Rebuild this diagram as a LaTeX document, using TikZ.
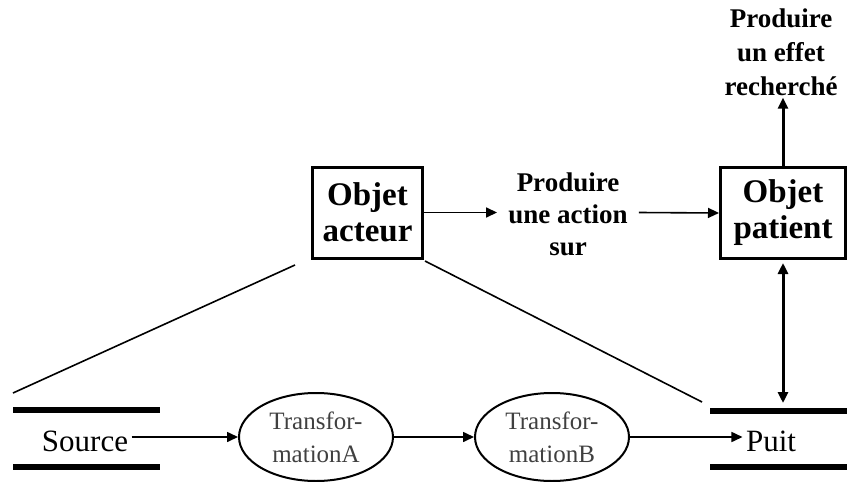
\documentclass[tikz,border=0pt]{standalone}
\usepackage{fontspec}
\setmainfont{Liberation Serif}
\usetikzlibrary{shapes.geometric,arrows.meta}

\begin{document}
\begin{tikzpicture}[x=1pt,y=-1pt,
    objbox/.style={draw, line width=3pt, minimum width=110pt, minimum height=91pt,
      align=center, font=\bfseries\fontsize{33}{36}\selectfont},
    transf/.style={draw, ellipse, line width=2pt, minimum width=154pt, minimum height=88pt,
      inner sep=0pt, align=center, font=\fontsize{25}{33}\selectfont, text=black!75},
    flow/.style={-{Triangle[length=11pt,width=10pt]}, line width=1.6pt},
    vflow/.style={-{Triangle[length=11pt,width=10pt]}, line width=3pt},
    bar/.style={line width=6pt}]
        \useasboundingbox (0,0) rectangle (847,482);

        % Draw the two objects and the action
        \node[objbox] (acteur) at (367.5,212.5) {Objet\\acteur};
        \node[objbox, minimum width=125pt] (patient) at (783,213) {Objet\\patient};
        \node[align=center, outer sep=8pt, font=\bfseries\fontsize{27}{32}\selectfont] (action) at (568,214) {Produire\\une action\\sur};
        \node[align=center, inner sep=2pt, font=\bfseries\fontsize{27}{34}\selectfont] (effet) at (781,52) {Produire\\un effet\\recherché};

        % Draw the process: source, transformations, puit
        \node[font=\fontsize{31}{36}\selectfont] (source) at (85,441) {Source};
        \node[font=\fontsize{31}{36}\selectfont] (puit) at (771,441) {Puit};
        \node[transf] (transA) at (316,437) {Transfor-\\mationA};
        \node[transf] (transB) at (552,437) {Transfor-\\mationB};

        % Draw the stores
        \draw[bar] (13,410) -- (160,410);
        \draw[bar] (13,467) -- (160,467);
        \draw[bar] (710,411) -- (847,411);
        \draw[bar] (710,467) -- (847,467);
        \coordinate (puittop) at (783,403);

        % Draw the arrows
        \draw[flow] (acteur.east) -- (acteur.east -| action.west);
        \draw[flow] (acteur.east -| action.east) -- (patient.west);
        \draw[vflow] (patient.north) -- (patient.north |- effet.south);
        \draw[vflow, {Triangle[length=11pt,width=10pt]}-{Triangle[length=11pt,width=10pt]}] (patient.south) ++(0,3) -- (puittop);
        \draw[flow] (source.east |- transA.west) -- (transA.west);
        \draw[flow] (transA.east) -- (transB.west);
        \draw[flow] (transB.east) -- (transB.east -| puit.west);

        % Draw the zoom lines
        \coordinate (zl1) at (13,393);
        \coordinate (zl2) at (295,265);
        \coordinate (zr1) at (425,261);
        \coordinate (zr2) at (702,402);
        \draw[line width=1.6pt] (zl1) -- (zl2);
        \draw[line width=1.6pt] (zr1) -- (zr2);
    \end{tikzpicture}
\end{document}
